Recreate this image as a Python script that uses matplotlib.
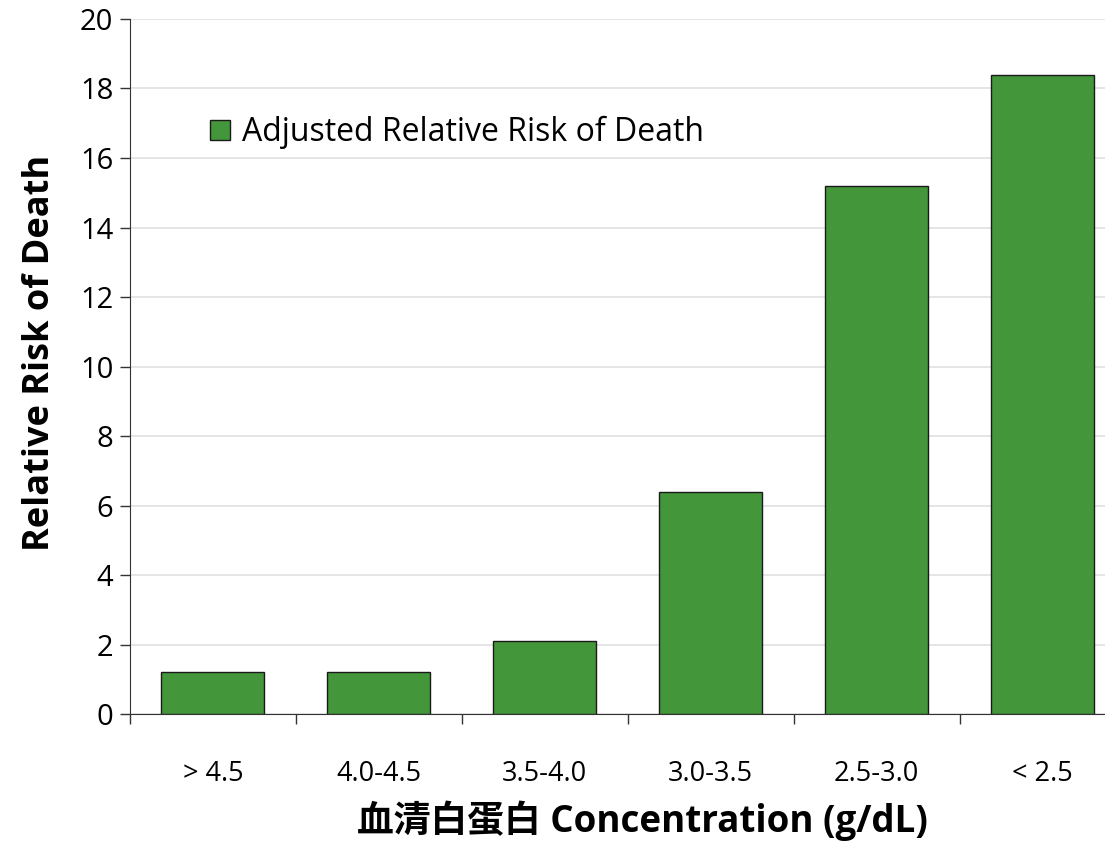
import matplotlib.pyplot as plt
import numpy as np

plt.rcParams['font.family'] = ['Open Sans', 'Noto Sans CJK TC', 'DejaVu Sans']

# Albumin bands and adjusted relative risk
categories = ["> 4.5", "4.0-4.5", "3.5-4.0", "3.0-3.5", "2.5-3.0", "< 2.5"]
relative_risk = [1.2, 1.2, 2.1, 6.4, 15.2, 18.4]

fig = plt.figure(figsize=(11.05, 8.44), dpi=100)
ax = fig.add_axes([0.1176, 0.154, 0.901, 0.8235])

x = np.arange(len(categories))
ax.bar(x, relative_risk, width=0.62, color="#43963a", edgecolor="#1a1a1a",
       linewidth=1.0, label="Adjusted Relative Risk of Death", zorder=3)

ax.set_xlim(-0.5, len(categories) - 0.5)
ax.set_ylim(0, 20)
ax.set_yticks(np.arange(0, 21, 2))
ax.yaxis.grid(True, color="#e0e0e0", linewidth=1.2, zorder=0)

# category labels centred, tick marks between categories
ax.set_xticks(x)
ax.set_xticklabels(categories, fontsize=19.5)
ax.tick_params(axis="x", which="major", length=0, pad=33)
ax.set_xticks(np.arange(-0.5, len(categories), 1), minor=True)
ax.tick_params(axis="x", which="minor", length=7, width=1, color="#333333")
ax.tick_params(axis="y", labelsize=21, length=7, width=1, color="#333333", pad=5)

for side in ["top", "right"]:
    ax.spines[side].set_visible(False)
for side in ["left", "bottom"]:
    ax.spines[side].set_color("#333333")

ax.set_ylabel("Relative Risk of Death", fontsize=26, fontweight="bold")
ax.yaxis.set_label_coords(-0.072, 0.52)
ax.set_xlabel("血清白蛋白 Concentration (g/dL)", fontsize=26.5, fontweight="bold")
ax.xaxis.set_label_coords(0.515, -0.125)

ax.legend(loc="upper left", bbox_to_anchor=(0.052, 0.902), frameon=False,
          fontsize=23, handlelength=0.6, handleheight=0.6, handletextpad=0.4)

fig.savefig("out.png")
